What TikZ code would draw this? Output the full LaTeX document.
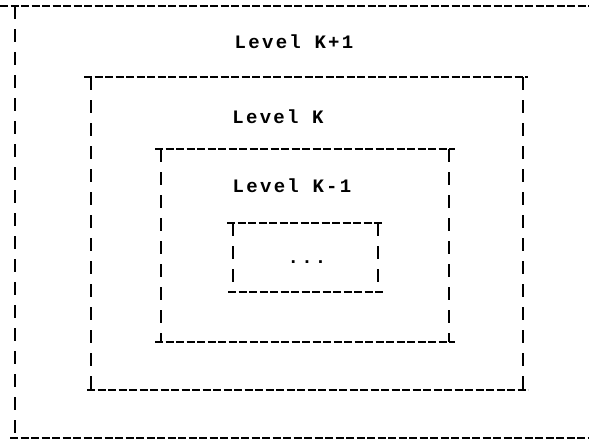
\documentclass[tikz,border=0pt]{standalone}
\usepackage{fontspec}
\newfontfamily\scanfont[LetterSpace=12]{Liberation Mono Bold}
\usetikzlibrary{positioning}

\begin{document}
\begin{tikzpicture}[x=1pt,y=-1pt,
  hrule/.style={line width=2.2pt,dash pattern=on 8pt off 2.5pt},
  vrule/.style={line width=2.2pt,dash pattern=on 13pt off 10pt},
  lvl/.style={font=\scanfont\fontsize{19}{22}\selectfont,inner sep=0pt}]
\useasboundingbox (0,0) rectangle (589,440);
% outer box, level K+1
\coordinate (A1) at (0,6);
\coordinate (A2) at (589,6);
\coordinate (A3) at (15,6);
\coordinate (A4) at (15,437);
\coordinate (A5) at (10,438);
\coordinate (A6) at (589,438);
% level K
\coordinate (B1) at (84,77);
\coordinate (B2) at (528,77);
\coordinate (B3) at (91,77);
\coordinate (B4) at (91,390);
\coordinate (B5) at (523,77);
\coordinate (B6) at (523,390);
\coordinate (B7) at (87,390);
\coordinate (B8) at (528,390);
% level K-1
\coordinate (C1) at (155,149);
\coordinate (C2) at (455,149);
\coordinate (C3) at (161,149);
\coordinate (C4) at (161,342);
\coordinate (C5) at (449,149);
\coordinate (C6) at (449,342);
\coordinate (C7) at (155,342);
\coordinate (C8) at (455,342);
% innermost
\coordinate (D1) at (227,223);
\coordinate (D2) at (383,223);
\coordinate (D3) at (233,223);
\coordinate (D4) at (233,292);
\coordinate (D5) at (378,223);
\coordinate (D6) at (378,292);
\coordinate (D7) at (228,292);
\coordinate (D8) at (383,292);

\node[lvl] (LKp) at (294,42) {Level K+1};
\node[lvl] (LK) at (278,117) {Level K};
\node[lvl] (LKm) at (292,186) {Level K-1};
\node[lvl] (Dots) at (307,262) {...};

\draw[hrule] (A1)--(A2);
\draw[vrule] (A3)--(A4);
\draw[hrule] (A5)--(A6);
\draw[hrule] (B1)--(B2);
\draw[vrule] (B3)--(B4);
\draw[vrule] (B5)--(B6);
\draw[hrule] (B7)--(B8);
\draw[hrule] (C1)--(C2);
\draw[vrule] (C3)--(C4);
\draw[vrule] (C5)--(C6);
\draw[hrule] (C7)--(C8);
\draw[hrule] (D1)--(D2);
\draw[vrule] (D3)--(D4);
\draw[vrule] (D5)--(D6);
\draw[hrule] (D7)--(D8);
\end{tikzpicture}
\end{document}
